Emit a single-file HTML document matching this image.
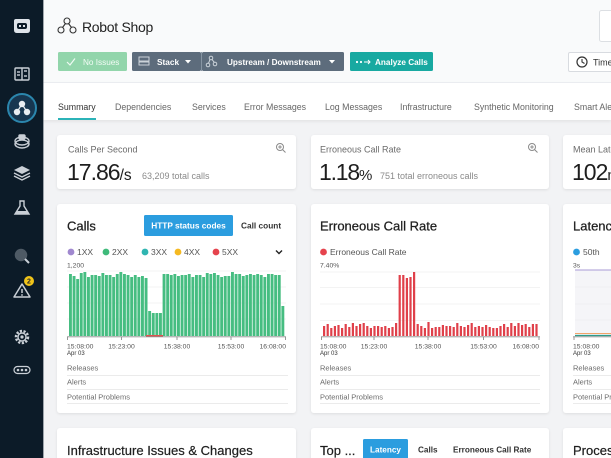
<!DOCTYPE html>
<html>
<head>
<meta charset="utf-8">
<style>
  html,body{margin:0;padding:0;background:#f2f3f5;}
  body{width:611px;height:458px;overflow:hidden;}
  svg{display:block;font-family:"Liberation Sans",Arial,sans-serif;}
</style>
</head>
<body>
<svg width="611" height="458" viewBox="0 0 611 458" xmlns="http://www.w3.org/2000/svg">
  <defs>
    <filter id="sh" x="-5%" y="-5%" width="110%" height="115%">
      <feDropShadow dx="0" dy="1" stdDeviation="1.2" flood-color="#000" flood-opacity="0.09"/>
    </filter>
    <filter id="tsh" x="-5%" y="-20%" width="110%" height="160%">
      <feDropShadow dx="0" dy="1.5" stdDeviation="1.5" flood-color="#000" flood-opacity="0.07"/>
    </filter>
  </defs>

  <!-- page bg -->
  <rect x="0" y="0" width="611" height="458" fill="#f2f3f5"/>
  <!-- header -->
  <rect x="43" y="0" width="568" height="83" fill="#f9fafb"/>
  <rect x="43" y="82" width="568" height="1" fill="#eceef1"/>
  <!-- tabs bar -->
  <rect x="43" y="83" width="568" height="37" fill="#ffffff" filter="url(#tsh)"/>

  <!-- sidebar -->
  <rect x="0" y="0" width="43" height="458" fill="#0c1b28"/>
  <rect x="43" y="0" width="1" height="458" fill="#1d2d3b" opacity="0.4"/>

  <!-- sidebar icons -->
  <!-- logo -->
  <g transform="translate(22,26)">
    <path d="M-6,-7 L6,-7 Q8,-7 8,-5 L8,4 Q8,7 5,7 L-5,7 Q-8,7 -8,4 L-8,-5 Q-8,-7 -6,-7Z" fill="#dfe4ea"/>
    <rect x="-5" y="-3" width="10" height="6" rx="2" fill="#0c1b28"/>
    <rect x="-3" y="-1" width="2" height="2" fill="#dfe4ea"/>
    <rect x="1" y="-1" width="2" height="2" fill="#dfe4ea"/>
  </g>
  <!-- dashboard icon -->
  <g transform="translate(22,74)" fill="none" stroke="#c9cfd6" stroke-width="1.4">
    <rect x="-7" y="-6" width="14" height="12" rx="1"/>
    <line x1="0" y1="-6" x2="0" y2="6"/>
    <line x1="-5" y1="-2" x2="-2" y2="-2"/>
    <line x1="-5" y1="1" x2="-2" y2="1"/>
    <line x1="2" y1="-3" x2="5" y2="-3"/>
    <line x1="2" y1="2" x2="5" y2="2"/>
  </g>
  <!-- active -->
  <g transform="translate(22,108)">
    <circle r="14" fill="#173650" stroke="#2b86ad" stroke-width="2"/>
    <circle cx="0" cy="-4" r="3.2" fill="#e8edf2"/>
    <circle cx="-5" cy="4" r="3.2" fill="#e8edf2"/>
    <circle cx="5" cy="4" r="3.2" fill="#e8edf2"/>
    <path d="M0,-4 L-5,4 M0,-4 L5,4" stroke="#e8edf2" stroke-width="1.2"/>
  </g>
  <!-- icon 4 -->
  <g transform="translate(22,141)" fill="none" stroke="#c9cfd6" stroke-width="1.4">
    <ellipse cx="0" cy="0" rx="7" ry="4"/>
    <ellipse cx="0" cy="3" rx="7" ry="4"/>
    <rect x="-3" y="-6" width="6" height="4" rx="1" fill="#c9cfd6"/>
  </g>
  <!-- layers -->
  <g transform="translate(22,173)">
    <path d="M0,-7 L8,-3 L0,1 L-8,-3Z" fill="#c9cfd6"/>
    <path d="M-8,0 L0,4 L8,0" fill="none" stroke="#c9cfd6" stroke-width="1.4"/>
    <path d="M-8,3 L0,7 L8,3" fill="none" stroke="#c9cfd6" stroke-width="1.4"/>
  </g>
  <!-- flask -->
  <g transform="translate(22,208)">
    <path d="M-2,-7 L2,-7 L2,-2 L7,6 L-7,6 L-2,-2Z" fill="none" stroke="#c9cfd6" stroke-width="1.4"/>
    <path d="M-5,3 L5,3 L7,6 L-7,6Z" fill="#c9cfd6"/>
  </g>
  <!-- search -->
  <g transform="translate(21,255)">
    <circle r="5.5" fill="#c9cfd6" opacity="0.35" stroke="#c9cfd6" stroke-width="1.5"/>
    <line x1="4" y1="4" x2="8" y2="8" stroke="#c9cfd6" stroke-width="2"/>
  </g>
  <!-- warning -->
  <g transform="translate(22,291)">
    <path d="M0,-7 L8,6 L-8,6Z" fill="none" stroke="#c9cfd6" stroke-width="1.5" stroke-linejoin="round"/>
    <line x1="0" y1="-2" x2="0" y2="2" stroke="#c9cfd6" stroke-width="1.5"/>
    <circle cx="0" cy="4" r="0.9" fill="#c9cfd6"/>
  </g>
  <circle cx="29" cy="281" r="5" fill="#f0c419"/>
  <text x="29" y="283.7" font-size="7" font-weight="bold" fill="#2a2a2a" text-anchor="middle">2</text>
  <!-- gear -->
  <g transform="translate(22,337)">
    <circle r="6" fill="none" stroke="#c9cfd6" stroke-width="2.5" stroke-dasharray="2.2 1.5"/>
    <circle r="4" fill="none" stroke="#c9cfd6" stroke-width="1.4"/>
    <circle r="1.6" fill="#c9cfd6"/>
  </g>
  <!-- dots -->
  <g transform="translate(22,370)">
    <rect x="-8" y="-3.5" width="16" height="7" rx="3.5" fill="none" stroke="#c9cfd6" stroke-width="1.2"/>
    <circle cx="-4" cy="0" r="1.3" fill="#c9cfd6"/>
    <circle cx="0" cy="0" r="1.3" fill="#c9cfd6"/>
    <circle cx="4" cy="0" r="1.3" fill="#c9cfd6"/>
  </g>

  <!-- header title -->
  <g transform="translate(67,26)" fill="none" stroke="#333" stroke-width="1.1">
    <circle cx="0" cy="-5" r="3"/>
    <circle cx="-6" cy="4" r="3"/>
    <circle cx="6" cy="4" r="3"/>
    <path d="M-1.5,-2.5 L-4.5,1.5 M1.5,-2.5 L4.5,1.5"/>
  </g>
  <text x="82" y="32" font-size="14" fill="#222" letter-spacing="-0.3">Robot Shop</text>

  <!-- top right box -->
  <rect x="599.5" y="10.5" width="20" height="31" rx="2" fill="#fff" stroke="#dcdfe3"/>

  <!-- header buttons -->
  <rect x="58" y="52" width="69" height="19" rx="1.5" fill="#92d5ab"/>
  <path d="M67,62 L70,65 L75,58.5" fill="none" stroke="#effaf3" stroke-width="1.2"/>
  <text x="83" y="65" font-size="8.2" fill="#f2fbf5">No Issues</text>

  <rect x="132" y="52" width="69" height="19" rx="1.5" fill="#5d6c7c"/>
  <rect x="139" y="57" width="10" height="4" fill="none" stroke="#d7dde3" stroke-width="0.9"/>
  <rect x="139" y="62" width="10" height="3" fill="none" stroke="#d7dde3" stroke-width="0.9"/>
  <text x="157" y="65" font-size="8.3" font-weight="bold" fill="#fff">Stack</text>
  <path d="M185,60 L191,60 L188,63.5Z" fill="#fff"/>

  <rect x="202" y="52" width="142" height="19" rx="1.5" fill="#5d6c7c"/>
  <rect x="201" y="52" width="1" height="19" fill="#8795a3"/>
  <g fill="none" stroke="#d7dde3" stroke-width="0.9">
    <circle cx="211" cy="58" r="1.8"/><circle cx="208" cy="65" r="1.8"/><circle cx="215" cy="64" r="1.8"/>
    <path d="M210,59.5 L208.5,63.3 M212,59.5 L214.3,62.3"/>
  </g>
  <text x="227" y="65" font-size="8.2" font-weight="bold" fill="#fff">Upstream / Downstream</text>
  <path d="M329,60 L335,60 L332,63.5Z" fill="#fff"/>

  <rect x="350" y="52" width="83" height="19" rx="1.5" fill="#18a9a1"/>
  <circle cx="357" cy="62" r="1.1" fill="#fff"/><circle cx="361" cy="62" r="1.1" fill="#fff"/>
  <path d="M364,62 L370,62 M368,60 L370,62 L368,64" stroke="#fff" stroke-width="1" fill="none"/>
  <text x="375" y="65" font-size="8.2" font-weight="bold" fill="#fff">Analyze Calls</text>

  <rect x="568.5" y="52.5" width="60" height="19" rx="1.5" fill="#fff" stroke="#d8dbe0"/>
  <circle cx="582" cy="62" r="5" fill="none" stroke="#333" stroke-width="1.2"/>
  <path d="M582,59 L582,62 L584.5,63.5" fill="none" stroke="#333" stroke-width="1.1"/>
  <text x="593" y="65.5" font-size="9" fill="#333">Time</text>

  <!-- tabs -->
  <g font-size="8.8" fill="#666">
    <text x="58" y="110" fill="#333">Summary</text>
    <text x="115" y="110">Dependencies</text>
    <text x="192" y="110">Services</text>
    <text x="244" y="110">Error Messages</text>
    <text x="325" y="110">Log Messages</text>
    <text x="400" y="110">Infrastructure</text>
    <text x="474" y="110">Synthetic Monitoring</text>
    <text x="574" y="110">Smart Alerts</text>
  </g>
  <rect x="58" y="118" width="38" height="2" fill="#2bb3b8"/>

  <!-- row 1 cards -->
  <rect x="57" y="135" width="239" height="54" rx="3" fill="#fff" filter="url(#sh)"/>
  <rect x="311" y="135" width="238" height="54" rx="3" fill="#fff" filter="url(#sh)"/>
  <rect x="563" y="135" width="60" height="54" rx="3" fill="#fff" filter="url(#sh)"/>

  <text x="68" y="152.5" font-size="9" fill="#6b6b6b">Calls Per Second</text>
  <text x="67" y="180" font-size="23" fill="#1e1e1e" letter-spacing="-1">17.86<tspan font-size="15.5" letter-spacing="0">/s</tspan></text>
  <text x="142" y="179" font-size="9" fill="#8a8a8a">63,209 total calls</text>
  <g transform="translate(280,147)" fill="none" stroke="#8a8a8a" stroke-width="1">
    <circle r="3.5"/><path d="M2.6,2.6 L5.5,5.5 M-1.8,0 L1.8,0 M0,-1.8 L0,1.8"/>
  </g>

  <text x="320" y="152.5" font-size="9" fill="#6b6b6b">Erroneous Call Rate</text>
  <text x="319" y="180" font-size="23" fill="#1e1e1e" letter-spacing="-1.2">1.18<tspan font-size="15" letter-spacing="0">%</tspan></text>
  <text x="380" y="179" font-size="9" fill="#8a8a8a">751 total erroneous calls</text>
  <g transform="translate(532,147)" fill="none" stroke="#8a8a8a" stroke-width="1">
    <circle r="3.5"/><path d="M2.6,2.6 L5.5,5.5 M-1.8,0 L1.8,0 M0,-1.8 L0,1.8"/>
  </g>

  <text x="573" y="152.5" font-size="9" fill="#6b6b6b">Mean Latency</text>
  <text x="572" y="180" font-size="23" fill="#1e1e1e" letter-spacing="-1">102<tspan font-size="15" letter-spacing="0">ms</tspan></text>

  <!-- row 2 cards -->
  <rect x="57" y="204" width="239" height="209" rx="3" fill="#fff" filter="url(#sh)"/>
  <rect x="311" y="204" width="238" height="209" rx="3" fill="#fff" filter="url(#sh)"/>
  <rect x="563" y="204" width="60" height="209" rx="3" fill="#fff" filter="url(#sh)"/>

  <!-- Calls card -->
  <text x="67" y="230.5" font-size="13" fill="#1e1e1e" stroke="#1e1e1e" stroke-width="0.25">Calls</text>
  <rect x="144" y="215" width="89" height="21" rx="1.5" fill="#2b9ddf"/>
  <text x="188.5" y="228.5" font-size="8.3" font-weight="bold" fill="#fff" text-anchor="middle">HTTP status codes</text>
  <text x="241" y="228.5" font-size="8.3" font-weight="bold" fill="#333">Call count</text>

  <g font-size="8.5" fill="#555">
    <circle cx="71" cy="252" r="3.4" fill="#a088cf"/><text x="77" y="255">1XX</text>
    <circle cx="106" cy="252" r="3.4" fill="#3fba7a"/><text x="112" y="255">2XX</text>
    <circle cx="145" cy="252" r="3.4" fill="#2fb5b1"/><text x="151" y="255">3XX</text>
    <circle cx="178" cy="252" r="3.4" fill="#f5b921"/><text x="184" y="255">4XX</text>
    <circle cx="216" cy="252" r="3.4" fill="#e5434d"/><text x="222" y="255">5XX</text>
  </g>
  <path d="M276,250.5 L279,253.5 L282,250.5" fill="none" stroke="#222" stroke-width="1.4"/>

  <text x="67" y="267.5" font-size="6.8" fill="#555">1,200</text>
  <g stroke="#efefef" stroke-width="0.8">
    <line x1="67" y1="271" x2="286" y2="271"/>
    <line x1="67" y1="287" x2="286" y2="287"/>
    <line x1="67" y1="303" x2="286" y2="303"/>
    <line x1="67" y1="319" x2="286" y2="319"/>
  </g>
  <g fill="#46bd81">
    <rect x="69" y="274" width="2.9" height="62"/>
    <rect x="72.6" y="276" width="2.9" height="60"/>
    <rect x="76.2" y="279" width="2.9" height="57"/>
    <rect x="79.8" y="273" width="2.9" height="63"/>
    <rect x="83.4" y="272" width="2.9" height="64"/>
    <rect x="87" y="277" width="2.9" height="59"/>
    <rect x="90.6" y="275" width="2.9" height="61"/>
    <rect x="94.2" y="275" width="2.9" height="61"/>
    <rect x="97.8" y="276" width="2.9" height="60"/>
    <rect x="101.4" y="273" width="2.9" height="63"/>
    <rect x="105" y="275" width="2.9" height="61"/>
    <rect x="108.6" y="275" width="2.9" height="61"/>
    <rect x="112.2" y="277" width="2.9" height="59"/>
    <rect x="115.8" y="274" width="2.9" height="62"/>
    <rect x="119.4" y="272" width="2.9" height="64"/>
    <rect x="123" y="274" width="2.9" height="62"/>
    <rect x="126.6" y="275" width="2.9" height="61"/>
    <rect x="130.2" y="277" width="2.9" height="59"/>
    <rect x="133.8" y="275" width="2.9" height="61"/>
    <rect x="137.4" y="277" width="2.9" height="59"/>
    <rect x="141" y="276" width="2.9" height="60"/>
    <rect x="144.6" y="278" width="2.9" height="58"/>
    <rect x="148.2" y="311" width="2.9" height="25"/>
    <rect x="151.8" y="313" width="2.9" height="23"/>
    <rect x="155.4" y="313" width="2.9" height="23"/>
    <rect x="159" y="313" width="2.9" height="23"/>
    <rect x="162.6" y="274" width="2.9" height="62"/>
    <rect x="166.2" y="274" width="2.9" height="62"/>
    <rect x="169.8" y="275" width="2.9" height="61"/>
    <rect x="173.4" y="274" width="2.9" height="62"/>
    <rect x="177" y="276" width="2.9" height="60"/>
    <rect x="180.6" y="275" width="2.9" height="61"/>
    <rect x="184.2" y="275" width="2.9" height="61"/>
    <rect x="187.8" y="274" width="2.9" height="62"/>
    <rect x="191.4" y="277" width="2.9" height="59"/>
    <rect x="195" y="275" width="2.9" height="61"/>
    <rect x="198.6" y="275" width="2.9" height="61"/>
    <rect x="202.2" y="277" width="2.9" height="59"/>
    <rect x="205.8" y="273" width="2.9" height="63"/>
    <rect x="209.4" y="274" width="2.9" height="62"/>
    <rect x="213" y="273" width="2.9" height="63"/>
    <rect x="216.6" y="275" width="2.9" height="61"/>
    <rect x="220.2" y="277" width="2.9" height="59"/>
    <rect x="223.8" y="276" width="2.9" height="60"/>
    <rect x="227.4" y="276" width="2.9" height="60"/>
    <rect x="231" y="272" width="2.9" height="64"/>
    <rect x="234.6" y="274" width="2.9" height="62"/>
    <rect x="238.2" y="274" width="2.9" height="62"/>
    <rect x="241.8" y="276" width="2.9" height="60"/>
    <rect x="245.4" y="275" width="2.9" height="61"/>
    <rect x="249" y="274" width="2.9" height="62"/>
    <rect x="252.6" y="275" width="2.9" height="61"/>
    <rect x="256.2" y="274" width="2.9" height="62"/>
    <rect x="259.8" y="275" width="2.9" height="61"/>
    <rect x="263.4" y="277" width="2.9" height="59"/>
    <rect x="267" y="274" width="2.9" height="62"/>
    <rect x="270.6" y="274" width="2.9" height="62"/>
    <rect x="274.2" y="275" width="2.9" height="61"/>
    <rect x="277.8" y="275" width="2.9" height="61"/>
    <rect x="281.4" y="306" width="2.9" height="30"/>
  </g>
  <rect x="146" y="335" width="17" height="1.6" fill="#e0524f"/>
  <line x1="67" y1="336.8" x2="286" y2="336.8" stroke="#8c8c8c" stroke-width="0.9"/>
  <g stroke="#8c8c8c" stroke-width="0.9">
    <line x1="67.5" y1="336.5" x2="67.5" y2="340"/>
    <line x1="121.5" y1="336.5" x2="121.5" y2="340"/>
    <line x1="177" y1="336.5" x2="177" y2="340"/>
    <line x1="231" y1="336.5" x2="231" y2="340"/>
    <line x1="285.5" y1="336.5" x2="285.5" y2="340"/>
  </g>
  <g font-size="6.8" fill="#555">
    <text x="67" y="348.5">15:08:00</text>
    <text x="121.5" y="348.5" text-anchor="middle">15:23:00</text>
    <text x="177" y="348.5" text-anchor="middle">15:38:00</text>
    <text x="231" y="348.5" text-anchor="middle">15:53:00</text>
    <text x="286" y="348.5" text-anchor="end">16:08:00</text>
    <text x="67" y="355" font-size="6" fill="#333">Apr 03</text>
  </g>
  <g font-size="7.5" fill="#6b6b6b">
    <text x="67" y="370.5">Releases</text>
    <text x="67" y="384.5">Alerts</text>
    <text x="67" y="399.5">Potential Problems</text>
  </g>
  <g stroke="#ebebeb" stroke-width="1">
    <line x1="67" y1="375.5" x2="288" y2="375.5"/>
    <line x1="67" y1="389.5" x2="288" y2="389.5"/>
    <line x1="67" y1="403.5" x2="288" y2="403.5"/>
  </g>

  <!-- Erroneous Call Rate card -->
  <text x="320" y="230.5" font-size="13" fill="#1e1e1e" stroke="#1e1e1e" stroke-width="0.25">Erroneous Call Rate</text>
  <circle cx="323.5" cy="252" r="3.4" fill="#e5434d"/>
  <text x="330" y="255" font-size="8.5" fill="#555">Erroneous Call Rate</text>
  <text x="320" y="267.5" font-size="6.8" fill="#555">7.40%</text>
  <g stroke="#efefef" stroke-width="0.8">
    <line x1="320" y1="272" x2="540" y2="272"/>
    <line x1="320" y1="287.5" x2="540" y2="287.5"/>
    <line x1="320" y1="304" x2="540" y2="304"/>
    <line x1="320" y1="320.5" x2="540" y2="320.5"/>
  </g>
  <g fill="#e0404a">
    <rect x="323" y="326" width="2.2" height="10"/>
    <rect x="326.6" y="324" width="2.2" height="12"/>
    <rect x="330.2" y="328" width="2.2" height="8"/>
    <rect x="333.8" y="326" width="2.2" height="10"/>
    <rect x="337.4" y="325" width="2.2" height="11"/>
    <rect x="341" y="328" width="2.2" height="8"/>
    <rect x="344.6" y="324" width="2.2" height="12"/>
    <rect x="348.2" y="327" width="2.2" height="9"/>
    <rect x="351.8" y="323" width="2.2" height="13"/>
    <rect x="355.4" y="326" width="2.2" height="10"/>
    <rect x="359" y="324" width="2.2" height="12"/>
    <rect x="362.6" y="323" width="2.2" height="13"/>
    <rect x="366.2" y="326" width="2.2" height="10"/>
    <rect x="369.8" y="328" width="2.2" height="8"/>
    <rect x="373.4" y="326" width="2.2" height="10"/>
    <rect x="377" y="326" width="2.2" height="10"/>
    <rect x="380.6" y="327" width="2.2" height="9"/>
    <rect x="384.2" y="326" width="2.2" height="10"/>
    <rect x="387.8" y="328" width="2.2" height="8"/>
    <rect x="391.4" y="327" width="2.2" height="9"/>
    <rect x="395" y="323" width="2.2" height="13"/>
    <rect x="398.6" y="275" width="2.2" height="61"/>
    <rect x="402.2" y="275" width="2.2" height="61"/>
    <rect x="405.8" y="278" width="2.2" height="58"/>
    <rect x="409.4" y="277" width="2.2" height="59"/>
    <rect x="413" y="272" width="2.2" height="64"/>
    <rect x="416.6" y="324" width="2.2" height="12"/>
    <rect x="420.2" y="326" width="2.2" height="10"/>
    <rect x="423.8" y="328" width="2.2" height="8"/>
    <rect x="427.4" y="322" width="2.2" height="14"/>
    <rect x="431" y="328" width="2.2" height="8"/>
    <rect x="434.6" y="327" width="2.2" height="9"/>
    <rect x="438.2" y="327" width="2.2" height="9"/>
    <rect x="441.8" y="325" width="2.2" height="11"/>
    <rect x="445.4" y="326" width="2.2" height="10"/>
    <rect x="449" y="326" width="2.2" height="10"/>
    <rect x="452.6" y="327" width="2.2" height="9"/>
    <rect x="456.2" y="323" width="2.2" height="13"/>
    <rect x="459.8" y="326" width="2.2" height="10"/>
    <rect x="463.4" y="327" width="2.2" height="9"/>
    <rect x="467" y="325" width="2.2" height="11"/>
    <rect x="470.6" y="323" width="2.2" height="13"/>
    <rect x="474.2" y="327" width="2.2" height="9"/>
    <rect x="477.8" y="326" width="2.2" height="10"/>
    <rect x="481.4" y="327" width="2.2" height="9"/>
    <rect x="485" y="325" width="2.2" height="11"/>
    <rect x="488.6" y="327" width="2.2" height="9"/>
    <rect x="492.2" y="328" width="2.2" height="8"/>
    <rect x="495.8" y="328" width="2.2" height="8"/>
    <rect x="499.4" y="326" width="2.2" height="10"/>
    <rect x="503" y="324" width="2.2" height="12"/>
    <rect x="506.6" y="327" width="2.2" height="9"/>
    <rect x="510.2" y="323" width="2.2" height="13"/>
    <rect x="513.8" y="326" width="2.2" height="10"/>
    <rect x="517.4" y="323" width="2.2" height="13"/>
    <rect x="521" y="325" width="2.2" height="11"/>
    <rect x="524.6" y="324" width="2.2" height="12"/>
    <rect x="528.2" y="327" width="2.2" height="9"/>
    <rect x="531.8" y="324" width="2.2" height="12"/>
    <rect x="535.4" y="324" width="2.2" height="12"/>
  </g>
  <line x1="321" y1="336.8" x2="540" y2="336.8" stroke="#8c8c8c" stroke-width="0.9"/>
  <g stroke="#8c8c8c" stroke-width="0.9">
    <line x1="321.5" y1="336.5" x2="321.5" y2="340"/>
    <line x1="374" y1="336.5" x2="374" y2="340"/>
    <line x1="428" y1="336.5" x2="428" y2="340"/>
    <line x1="483.5" y1="336.5" x2="483.5" y2="340"/>
    <line x1="539" y1="336.5" x2="539" y2="340"/>
  </g>
  <g font-size="6.8" fill="#555">
    <text x="320" y="348.5">15:08:00</text>
    <text x="374" y="348.5" text-anchor="middle">15:23:00</text>
    <text x="428" y="348.5" text-anchor="middle">15:38:00</text>
    <text x="483.5" y="348.5" text-anchor="middle">15:53:00</text>
    <text x="539" y="348.5" text-anchor="end">16:08:00</text>
    <text x="320" y="355" font-size="6" fill="#333">Apr 03</text>
  </g>
  <g font-size="7.5" fill="#6b6b6b">
    <text x="320" y="370.5">Releases</text>
    <text x="320" y="384.5">Alerts</text>
    <text x="320" y="399.5">Potential Problems</text>
  </g>
  <g stroke="#ebebeb" stroke-width="1">
    <line x1="320" y1="375.5" x2="540" y2="375.5"/>
    <line x1="320" y1="389.5" x2="540" y2="389.5"/>
    <line x1="320" y1="403.5" x2="540" y2="403.5"/>
  </g>

  <!-- Latency card (partial) -->
  <text x="573" y="230.5" font-size="13" fill="#1e1e1e" stroke="#1e1e1e" stroke-width="0.25">Latency</text>
  <circle cx="576.5" cy="252" r="3.4" fill="#2b9ddf"/>
  <text x="583" y="255" font-size="8.5" fill="#555">50th</text>
  <text x="573" y="267.5" font-size="6.8" fill="#555">3s</text>
  <rect x="575" y="270" width="40" height="66" fill="#f5f5f8"/>
  <g stroke="#ececf0" stroke-width="0.8">
    <line x1="575" y1="287" x2="611" y2="287"/>
    <line x1="575" y1="304" x2="611" y2="304"/>
    <line x1="575" y1="320" x2="611" y2="320"/>
  </g>
  <line x1="575" y1="270" x2="611" y2="270" stroke="#a99bd6" stroke-width="1"/>
  <line x1="575" y1="333.5" x2="611" y2="333.5" stroke="#f2a46a" stroke-width="1"/>
  <line x1="575" y1="335.5" x2="611" y2="335.5" stroke="#2f9c8a" stroke-width="1.3"/>
  <line x1="573" y1="336.8" x2="611" y2="336.8" stroke="#8c8c8c" stroke-width="0.9"/>
  <line x1="574" y1="336.5" x2="574" y2="340" stroke="#8c8c8c" stroke-width="0.9"/>
  <text x="573" y="348.5" font-size="6.8" fill="#555">15:08:00</text>
  <text x="573" y="355" font-size="6" fill="#333">Apr 03</text>
  <g font-size="7.5" fill="#6b6b6b">
    <text x="573" y="370.5">Releases</text>
    <text x="573" y="384.5">Alerts</text>
    <text x="573" y="399.5">Potential Problems</text>
  </g>
  <g stroke="#ebebeb" stroke-width="1">
    <line x1="573" y1="375.5" x2="611" y2="375.5"/>
    <line x1="573" y1="389.5" x2="611" y2="389.5"/>
    <line x1="573" y1="403.5" x2="611" y2="403.5"/>
  </g>

  <!-- row 3 cards -->
  <rect x="57" y="428" width="239" height="40" rx="3" fill="#fff" filter="url(#sh)"/>
  <rect x="311" y="428" width="238" height="40" rx="3" fill="#fff" filter="url(#sh)"/>
  <rect x="563" y="428" width="60" height="40" rx="3" fill="#fff" filter="url(#sh)"/>

  <text x="67" y="455" font-size="13" fill="#1e1e1e" stroke="#1e1e1e" stroke-width="0.2">Infrastructure Issues &amp; Changes</text>
  <text x="320" y="455" font-size="13" fill="#1e1e1e" stroke="#1e1e1e" stroke-width="0.2">Top ...</text>
  <rect x="363" y="439" width="45" height="22" rx="1.5" fill="#2b9ddf"/>
  <text x="385.5" y="452.5" font-size="8.2" font-weight="bold" fill="#fff" text-anchor="middle">Latency</text>
  <text x="418" y="452.5" font-size="8.2" font-weight="bold" fill="#333">Calls</text>
  <text x="453" y="452.5" font-size="8.2" font-weight="bold" fill="#333">Erroneous Call Rate</text>
  <text x="573" y="455" font-size="13" fill="#1e1e1e" stroke="#1e1e1e" stroke-width="0.2">Processes</text>
</svg>
</body>
</html>
